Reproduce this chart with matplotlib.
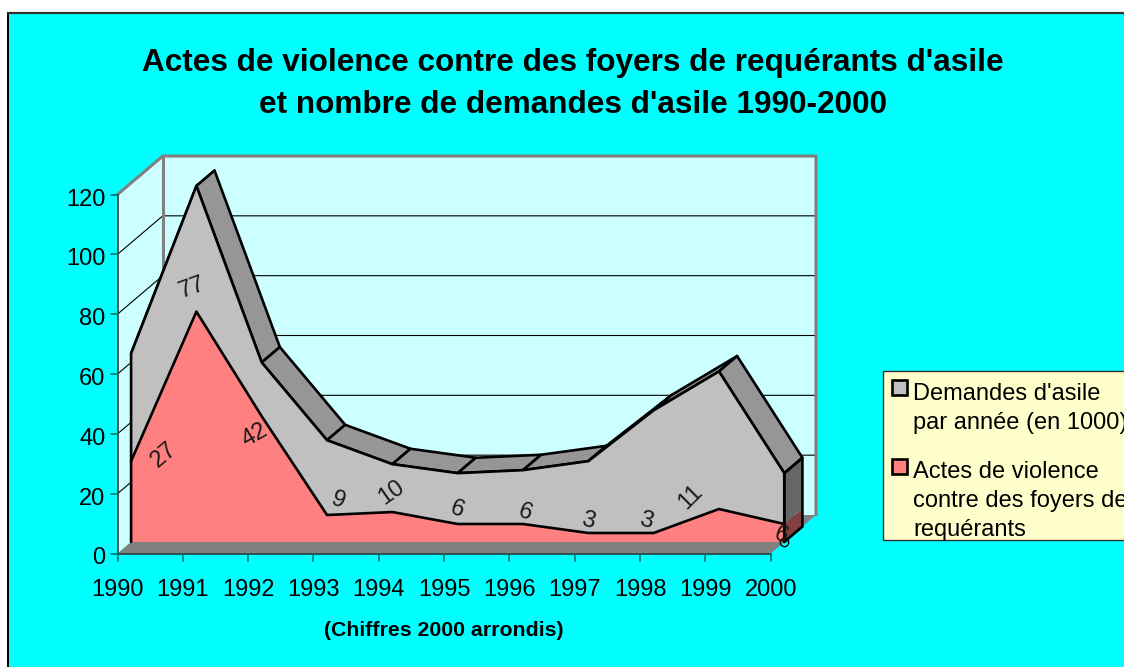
import matplotlib
matplotlib.use('Agg')
import matplotlib.pyplot as plt
from matplotlib.patches import Polygon, Rectangle
from matplotlib.transforms import Affine2D

plt.rcParams['font.family'] = ['Liberation Sans', 'DejaVu Sans']

years = [1990, 1991, 1992, 1993, 1994, 1995, 1996, 1997, 1998, 1999, 2000]
violence = [27, 77, 42, 9, 10, 6, 6, 3, 3, 11, 6]
demandes = [36, 42, 18, 25, 16, 17, 18, 24, 41, 46, 17]
y_ticks = [0, 20, 40, 60, 80, 100, 120]

# offset of each label from its point, pixels, and its tilt
label_dx = [33, -4, -7, 11, -1, -1, 2, 0, -8, -28, -3]
label_dy = [6, 24, -19, 14, 19, 14, 11, 12, 12, 12, -12]
label_rot = [40, 20, 30, -20, 35, -20, -20, -15, -15, 45, -20]

W, H = 1124, 667
DX, DY = 45.3, 38.5
fig = plt.figure(figsize=(W / 100, H / 100), dpi=100, facecolor='white')

# chart area, white margin outside of it
fig.add_artist(Rectangle((7.5 / W, -10 / H), 1130 / W, (667 - 13 + 10) / H, transform=fig.transFigure,
                         facecolor='#00FFFF', edgecolor='none', zorder=0))
fig.add_artist(plt.Line2D([7.5 / W, 7.5 / W], [0, 1 - 13 / H], transform=fig.transFigure,
                          color='black', lw=1.4, zorder=0.5))
fig.add_artist(plt.Line2D([7.5 / W, 1], [1 - 13 / H, 1 - 13 / H], transform=fig.transFigure,
                          color='#303030', lw=1.6, zorder=0.5))

ax = fig.add_axes([117.5 / W, 1 - 553.5 / H, 653.2 / W, 359 / H])
ax.set_xlim(0, 10)
ax.set_ylim(0, 120)
ax.axis('off')


def depth(d):
    # 3d look: move d of the way from the front to the back wall
    return ax.transData + Affine2D().translate(DX * d, DY * d)


def pt(x, y, d=0.0):
    return depth(d).transform((x, y))


def add_poly(points, **kw):
    # points are already in pixels
    ax.add_patch(Polygon(points, closed=True, transform=None, clip_on=False, **kw))


def add_line(points, color='black', lw=1.9, zorder=2):
    xs = [p[0] for p in points]
    ys = [p[1] for p in points]
    ax.plot(xs, ys, transform=None, color=color, lw=lw, clip_on=False, zorder=zorder,
            solid_capstyle='round', solid_joinstyle='round')


# walls
add_poly([pt(0, 0, 1), pt(10, 0, 1), pt(10, 120, 1), pt(0, 120, 1)], facecolor='#CCFFFF', edgecolor='none')
add_poly([pt(0, 0), pt(0, 0, 1), pt(0, 120, 1), pt(0, 120)], facecolor='#CCFFFF', edgecolor='none')
for v in y_ticks[1:-1]:
    add_line([pt(0, v), pt(0, v, 1), pt(10, v, 1)], lw=0.8, zorder=1)

# wall edges
add_line([pt(0, 0, 1), pt(0, 120, 1)], color='#808080', lw=2.2, zorder=1)
add_line([pt(0, 120), pt(0, 120, 1), pt(10, 120, 1), pt(10, 0, 1)], color='#808080', lw=2.2, zorder=1)

# floor
add_poly([pt(0, 0), pt(10, 0), pt(10, 0, 1), pt(0, 0, 1)], facecolor='#808080', edgecolor='none')

stacked = [a + b for a, b in zip(violence, demandes)]
n = len(years)
d_front, d_back = 0.3, 0.7

# side face at the end of the series
e0, e1 = pt(10, 0, d_front), pt(10, 0, d_back)
e2, e3 = pt(10, violence[-1], d_back), pt(10, violence[-1], d_front)
e4, e5 = pt(10, stacked[-1], d_back), pt(10, stacked[-1], d_front)
add_poly([e0, e1, e2, e3], facecolor='#804040', edgecolor='none')
add_poly([e3, e2, e4, e5], facecolor='#666666', edgecolor='none')
add_line([e5, e0, e1, e4, e5])

# top faces of the grey series
for i in range(n - 1):
    add_poly([pt(i, stacked[i], d_front), pt(i + 1, stacked[i + 1], d_front),
              pt(i + 1, stacked[i + 1], d_back), pt(i, stacked[i], d_back)],
             facecolor='#969696', edgecolor='black', lw=1.9, joinstyle='round')

# front faces
top = [pt(i, stacked[i], d_front) for i in range(n)]
low = [pt(i, violence[i], d_front) for i in range(n)]
add_poly([pt(0, 0, d_front)] + top + [pt(10, 0, d_front)], facecolor='#C0C0C0', edgecolor='none')
add_poly([pt(0, 0, d_front)] + low + [pt(10, 0, d_front)], facecolor='#FF8080', edgecolor='none')
add_line(low)
add_line([pt(0, 0, d_front)] + top + [pt(10, 0, d_front)])

# data labels
for i in range(n):
    ax.annotate(str(violence[i]), (i, violence[i]), xycoords=depth(d_front),
                xytext=(label_dx[i], label_dy[i]), textcoords='offset pixels',
                ha='center', va='center', rotation=label_rot[i], rotation_mode='anchor',
                fontsize=17, color='#1a1a1a', annotation_clip=False)
ax.plot([10], [0], 'o', transform=depth(d_front), ms=6, mfc='none', mec='black', mew=1, clip_on=False)

# axes
add_line([pt(0, 120), pt(0, 0), pt(10, 0)], color='#303838', lw=1.2)
for v in y_ticks:
    p = pt(0, v)
    add_line([(p[0] - 7, p[1]), p], color='#007070', lw=1.2)
    ax.annotate(str(v), (0, v), xytext=(-12, -5), textcoords='offset pixels', ha='right', va='center',
                fontsize=17, annotation_clip=False)
for i in range(n):
    p = pt(i, 0)
    add_line([p, (p[0], p[1] - 7)], color='#007070', lw=1.2)
    ax.annotate(str(years[i]), (i, 0), xytext=(0, -36), textcoords='offset pixels', ha='center', va='center',
                fontsize=17, annotation_clip=False)

# titles
fig.text(573 / W, 1 - 63 / H, "Actes de violence contre des foyers de requérants d'asile",
         ha='center', va='center', fontsize=22.7, fontweight='bold')
fig.text(573 / W, 1 - 105 / H, "et nombre de demandes d'asile 1990-2000",
         ha='center', va='center', fontsize=22.7, fontweight='bold')
fig.text(444 / W, 1 - 631 / H, "(Chiffres 2000 arrondis)", ha='center', va='center',
         fontsize=15.3, fontweight='bold')

# legend box, cut by the right side of the image
fig.add_artist(Rectangle((883 / W, 1 - 540 / H), 260 / W, 169 / H, transform=fig.transFigure,
                         facecolor='#FFFFCC', edgecolor='#303030', lw=1))
fig.add_artist(Rectangle((891.5 / W, 1 - 395 / H), 15 / W, 15 / H, transform=fig.transFigure,
                         facecolor='#C0C0C0', edgecolor='black', lw=1.9))
fig.add_artist(Rectangle((891.5 / W, 1 - 474 / H), 15 / W, 15 / H, transform=fig.transFigure,
                         facecolor='#FF8080', edgecolor='black', lw=1.9))
legend_lines = ["Demandes d'asile", "par année (en 1000)", "Actes de violence",
                "contre des foyers de", "requérants"]
legend_ys = [394, 423, 472, 501, 530]
for s, y in zip(legend_lines, legend_ys):
    fig.text(913 / W, 1 - y / H, s, ha='left', va='center', fontsize=17)

fig.savefig('out.png', dpi=100, facecolor=fig.get_facecolor())
